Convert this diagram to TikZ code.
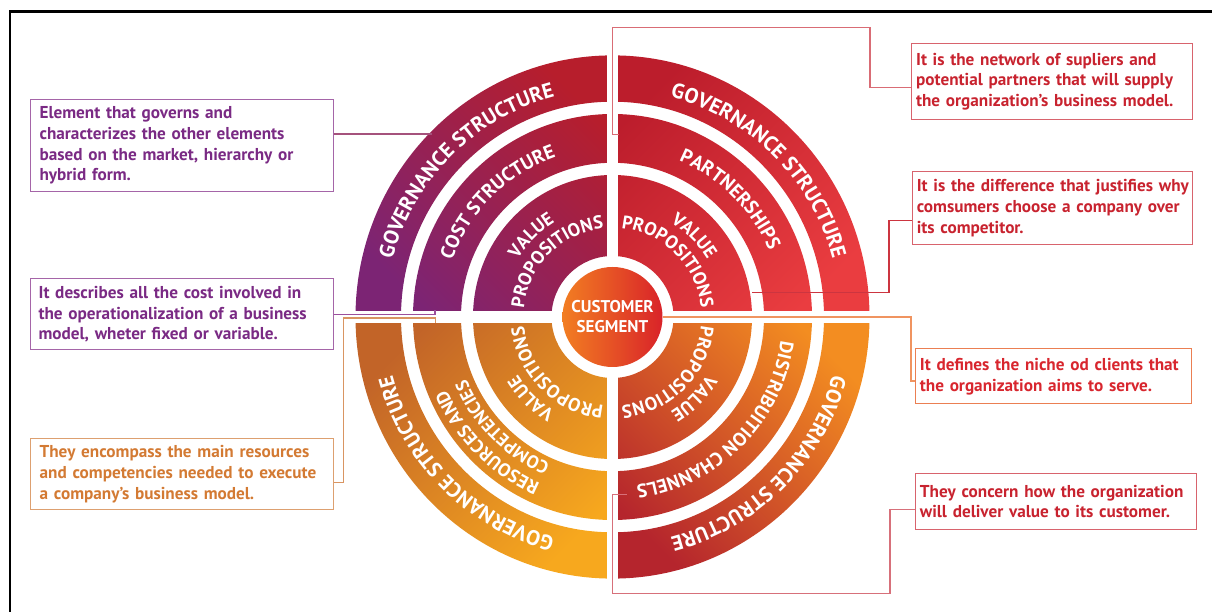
\documentclass[tikz,border=0pt]{standalone}
\usepackage{fontspec}
\setmainfont{PT Sans}
\usetikzlibrary{decorations.text}
\definecolor{ulA}{HTML}{7C2474}
\definecolor{ulB}{HTML}{B71E2C}
\definecolor{urA}{HTML}{BC1D2C}
\definecolor{urB}{HTML}{EA3D40}
\definecolor{llA}{HTML}{C26428}
\definecolor{llB}{HTML}{F7A81E}
\definecolor{lrA}{HTML}{B5252D}
\definecolor{lrB}{HTML}{F38D21}
\definecolor{custA}{HTML}{F27E22}
\definecolor{custB}{HTML}{D92329}
\definecolor{purT}{HTML}{7A2A84}
\definecolor{purB}{HTML}{A565A8}
\definecolor{oraT}{HTML}{D37A33}
\definecolor{oraB}{HTML}{DDA070}
\definecolor{redT}{HTML}{C8232F}
\definecolor{redB}{HTML}{D8636D}
\definecolor{redTT}{HTML}{D8262E}
\definecolor{redBB}{HTML}{EB7F52}
\definecolor{lnA}{HTML}{A5527C}
\definecolor{lnB}{HTML}{9B4F9C}
\definecolor{lnC}{HTML}{D99562}
\definecolor{lnD}{HTML}{D96C75}
\definecolor{lnE}{HTML}{CC3540}
\definecolor{lnF}{HTML}{F09460}
\definecolor{lnG}{HTML}{D7707A}
\newcommand\annsec[6]{(#1:#5 and #6) arc[start angle=#1,end angle=#2,x radius=#5,y radius=#6] -- (#2:#3 and #4) arc[start angle=#2,end angle=#1,x radius=#3,y radius=#4] -- cycle}
\newcommand\quadring[2]{\annsec{#1}{#2}{211.5}{215.3}{257}{261.6} \annsec{#1}{#2}{151.5}{154.2}{199.5}{203} \annsec{#1}{#2}{61}{61}{139.5}{142}}
\begin{document}
\begin{tikzpicture}[x=1pt,y=1pt,
  descbox/.style={draw, line width=1.2pt, anchor=north west, align=left, inner ysep=3,
     font=\fontsize{17.2}{20.7}\selectfont\bfseries},
  conn/.style={line width=1.2pt},
  ringtxt/.style 2 args={decorate,decoration={text along path,text align=center,text color=white,
     text={|\fontsize{#1}{#1}\selectfont\bfseries|#2}}}]
\useasboundingbox (0,0) rectangle (1212,612);
\draw[line width=2.2pt, black] (10,0) -- (10,600.5) -- (1212,600.5);

\begin{scope}[shift={(612.5,295)}]
\path[left color=ulA,right color=ulB,shading angle=135] \quadring{90}{180};
\path[left color=urA,right color=urB,shading angle=45] \quadring{0}{90};
\path[left color=llA,right color=llB,shading angle=45] \quadring{180}{270};
\path[left color=lrA,right color=lrB,shading angle=135] \quadring{270}{360};
\fill[white] (-5.8,-275) rectangle (5.8,275);
\fill[white] (-275,-6.15) rectangle (275,6.15);
\node[circle, minimum size=100, inner sep=0, left color=custA, right color=custB, text=white,
  align=center, font=\fontsize{17}{20}\selectfont\bfseries] (cust) at (0,0) {CUSTOMER\\SEGMENT};
% upper left
\path[ringtxt={21}{GOVERNANCE STRUCTURE}] (180:227.5) arc[start angle=180,end angle=90,radius=227.5];
\path[ringtxt={19.5}{COST STRUCTURE}] (180:170) arc[start angle=180,end angle=90,radius=170];
\path[ringtxt={18.5}{VALUE}] (180:111) arc[start angle=180,end angle=90,radius=111];
\path[ringtxt={18.5}{PROPOSITIONS}] (180:89) arc[start angle=180,end angle=90,radius=89];
% upper right
\path[ringtxt={21}{GOVERNANCE STRUCTURE}] (90:227.5) arc[start angle=90,end angle=0,radius=227.5];
\path[ringtxt={19.5}{PARTNERSHIPS}] (90:170) arc[start angle=90,end angle=0,radius=170];
\path[ringtxt={18.5}{VALUE}] (90:111) arc[start angle=90,end angle=0,radius=111];
\path[ringtxt={18.5}{PROPOSITIONS}] (90:89) arc[start angle=90,end angle=0,radius=89];
% lower left
\path[ringtxt={21}{GOVERNANCE STRUCTURE}] (270:227.5) arc[start angle=270,end angle=180,radius=227.5];
\path[ringtxt={18.5}{RESOURCES AND}] (270:181) arc[start angle=270,end angle=180,radius=181];
\path[ringtxt={18}{COMPETENCIES}] (270:159) arc[start angle=270,end angle=180,radius=159];
\path[ringtxt={18.5}{VALUE}] (270:111) arc[start angle=270,end angle=180,radius=111];
\path[ringtxt={18.5}{PROPOSITIONS}] (270:89) arc[start angle=270,end angle=180,radius=89];
% lower right
\path[ringtxt={21}{GOVERNANCE STRUCTURE}] (360:227.5) arc[start angle=360,end angle=270,radius=227.5];
\path[ringtxt={19}{DISTRIBUITION CHANNELS}] (360:170) arc[start angle=360,end angle=270,radius=170];
\path[ringtxt={18.5}{VALUE}] (360:111) arc[start angle=360,end angle=270,radius=111];
\path[ringtxt={18.5}{PROPOSITIONS}] (360:89) arc[start angle=360,end angle=270,radius=89];
\end{scope}

% description boxes
\node[descbox, draw=purB, text=purT, inner xsep=9, text width=285, minimum height=91.7] (b1) at (30,513)
  {\mbox{Element that governs and}\\\mbox{characterizes the other elements}\\\mbox{based on the market, hierarchy or}\\\mbox{hybrid form.}};
\node[descbox, draw=purB, text=purT, inner xsep=8.5, text width=286, minimum height=71] (b2) at (29.5,333.7)
  {\mbox{It describes all the cost involved in}\\\mbox{the operationalization of a business}\\\mbox{model, wheter fixed or variable.}};
\node[descbox, draw=oraB, text=oraT, inner xsep=9, text width=285, minimum height=71.6] (b3) at (30,174.3)
  {\mbox{They encompass the main resources}\\\mbox{and competencies needed to execute}\\\mbox{a company’s business model.}};
\node[descbox, draw=redB, text=redT, inner xsep=4.8, text width=271.4, minimum height=76.6] (b4) at (910.7,569.3)
  {\mbox{It is the network of supliers and}\\\mbox{potential partners that will supply}\\\mbox{the organization’s business model.}};
\node[descbox, draw=redB, text=redT, inner xsep=4.5, text width=271, minimum height=73] (b5) at (911.7,441)
  {\mbox{It is the difference that justifies why}\\\mbox{comsumers choose a company over}\\\mbox{its competitor.}};
\node[descbox, draw=redBB, text=redTT, inner xsep=4.3, text width=267.1, minimum height=55] (b6) at (915,263.7)
  {\mbox{It defines the niche od clients that}\\\mbox{the organization aims to serve.}};
\node[descbox, draw=redB, text=redT, inner xsep=4.3, text width=272.1, minimum height=55.4] (b7) at (915,138.7)
  {\mbox{They concern how the organization}\\\mbox{will deliver value to its customer.}};

% connectors
\coordinate (e1) at (432,478);
\draw[conn, lnA] (b1.east |- e1) -- (e1);
\coordinate (e2) at (435,302);
\draw[conn, lnB] (b2.east) -| (e2);
\coordinate (k3) at (343.3,129.3);
\coordinate (j3) at (435.7,294);
\coordinate (e3) at (435.7,288.7);
\draw[conn, lnC] (b3.east |- k3) -- (k3) |- (j3) -- (e3);
\coordinate (k4) at (870,524.3);
\coordinate (t4) at (612.7,584.3);
\coordinate (j4) at (612.7,477.7);
\coordinate (e4) at (618.5,477.7);
\draw[conn, lnD] (b4.west |- k4) -- (k4) |- (t4) -- (j4) -- (e4);
\coordinate (k5) at (889,391.3);
\coordinate (e5) at (751.7,319.7);
\draw[conn, lnE] (b5.west |- k5) -- (k5) |- (e5);
\coordinate (k6) at (911,231);
\draw[conn, lnF] (b6.west |- k6) -- (k6) |- (cust.east);
\coordinate (k7) at (890,102.7);
\coordinate (t7) at (612.7,18.7);
\coordinate (j7) at (612.7,117.7);
\coordinate (e7) at (626.7,117.7);
\draw[conn, lnG] (b7.west |- k7) -- (k7) |- (t7) -- (j7) -- (e7);
\end{tikzpicture}
\end{document}
